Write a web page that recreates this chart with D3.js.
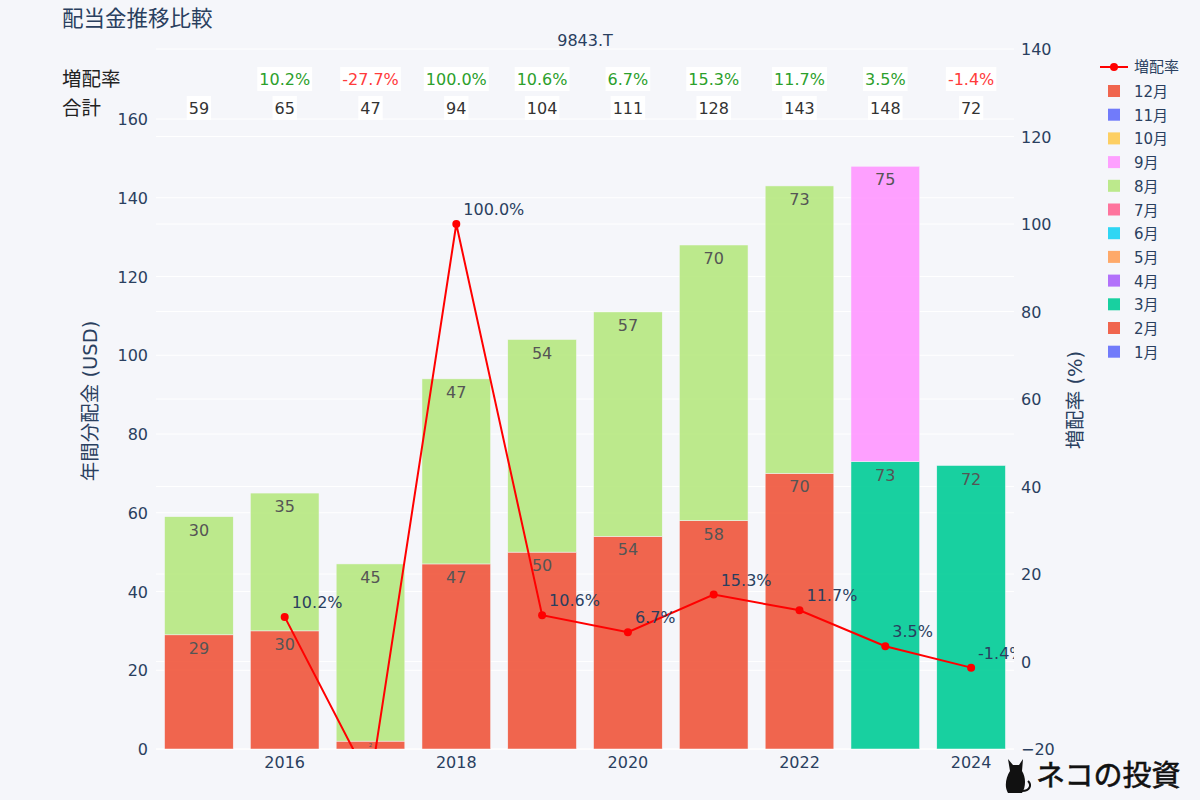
<!DOCTYPE html>
<html><head><meta charset="utf-8">
<script src="https://cdn.jsdelivr.net/npm/d3@7"></script>
<style>
body{margin:0;background:#f5f6fa;}
svg{font-family:"DejaVu Sans","Noto Sans CJK JP",sans-serif;}
</style></head>
<body><svg id="c" width="1200" height="800"></svg>
<script>
// ---- data ----
const years = [2015,2016,2017,2018,2019,2020,2021,2022,2023,2024];
const monthNames = ["1月","2月","3月","4月","5月","6月","7月","8月","9月","10月","11月","12月"];
const monthColors = ["#636EFA","#EF553B","#00CC96","#AB63FA","#FFA15A","#19D3F3","#FF6692","#B6E880","#FF97FF","#FECB52","#636EFA","#EF553B"];
const jan = [0,0,0,0,0,0,0,0,0,0];
const feb = [29,30,2,47,50,54,58,70,0,0];
const mar = [0,0,0,0,0,0,0,0,73,72];
const apr = [0,0,0,0,0,0,0,0,0,0];
const may = [0,0,0,0,0,0,0,0,0,0];
const jun = [0,0,0,0,0,0,0,0,0,0];
const jul = [0,0,0,0,0,0,0,0,0,0];
const aug = [30,35,45,47,54,57,70,73,0,0];
const sep = [0,0,0,0,0,0,0,0,75,0];
const oct = [0,0,0,0,0,0,0,0,0,0];
const nov = [0,0,0,0,0,0,0,0,0,0];
const dec = [0,0,0,0,0,0,0,0,0,0];
const totals = [59,65,47,94,104,111,128,143,148,72];
const growthYears = [2016,2017,2018,2019,2020,2021,2022,2023,2024];
const growth = [10.2,-27.7,100.0,10.6,6.7,15.3,11.7,3.5,-1.4];
const leftTicks = [0,20,40,60,80,100,120,140,160];
const rightTicks = [-20,0,20,40,60,80,100,120,140];
const xTicks = [2016,2018,2020,2022,2024];

const months = [jan,feb,mar,apr,may,jun,jul,aug,sep,oct,nov,dec];

const svg = d3.select("#c");
const L=156, R=1014, T=49, B=749;
const x = d3.scaleLinear().domain([2014.5,2024.5]).range([L,R]);
const yL = d3.scaleLinear().domain([0,160]).range([B,119]);
const yR = d3.scaleLinear().domain([-20,140]).range([B,T]);
const bw = (x(1)-x(0))*0.8;
const txtCol = "#2a3f5f";

svg.append("rect").attr("width",1200).attr("height",800).attr("fill","#f5f6fa");
svg.append("defs").append("clipPath").attr("id","clip").append("rect")
  .attr("x",L).attr("y",T).attr("width",R-L).attr("height",B-T);

// grids
const g = svg.append("g");
g.selectAll(".gl").data(leftTicks).join("line")
  .attr("x1",L).attr("x2",R).attr("y1",d=>yL(d)).attr("y2",d=>yL(d))
  .attr("stroke","#fff").attr("stroke-width",1);
g.selectAll(".gr").data(rightTicks).join("line")
  .attr("x1",L).attr("x2",R).attr("y1",d=>yR(d)).attr("y2",d=>yR(d))
  .attr("stroke","#fff").attr("stroke-width",1);

// stacked bars
const stacks = years.map(()=>0);
const barG = svg.append("g").attr("clip-path","url(#clip)");
const labelG = svg.append("g");
months.forEach((arr,mi)=>{
  arr.forEach((v,i)=>{
    if(!v) return;
    const y0 = stacks[i], y1 = y0+v;
    stacks[i]=y1;
    barG.append("rect")
      .attr("x",x(years[i])-bw/2).attr("width",bw)
      .attr("y",yL(y1)).attr("height",yL(y0)-yL(y1))
      .attr("fill",monthColors[mi]).attr("fill-opacity",0.9)
      .attr("stroke","#f5f6fa").attr("stroke-width",0.5);
    const h = yL(y0)-yL(y1);
    const fs = h>24?16:Math.max(4,h*0.7);
    labelG.append("text")
      .attr("x",x(years[i])).attr("y",yL(y1)+(h>24?19:h*0.75))
      .attr("text-anchor","middle").attr("font-size",fs)
      .attr("fill","#555").text(v);
  });
});

// axes tick labels
svg.append("g").selectAll("text").data(leftTicks).join("text")
  .attr("x",148).attr("y",d=>yL(d)+6).attr("text-anchor","end")
  .attr("font-size",16).attr("fill",txtCol).text(d=>d);
svg.append("g").selectAll("text").data(rightTicks).join("text")
  .attr("x",1021).attr("y",d=>yR(d)+6).attr("text-anchor","start")
  .attr("font-size",16).attr("fill",txtCol).text(d=>d<0?"\u2212"+Math.abs(d):d);
svg.append("g").selectAll("text").data(xTicks).join("text")
  .attr("x",d=>x(d)).attr("y",768).attr("text-anchor","middle")
  .attr("font-size",16).attr("fill",txtCol).text(d=>d);

// axis titles
svg.append("text").attr("transform","translate(97,401) rotate(-90)")
  .attr("text-anchor","middle").attr("font-size",19.5).attr("fill",txtCol).text("年間分配金 (USD)");
svg.append("text").attr("transform","translate(1082,400) rotate(-90)")
  .attr("text-anchor","middle").attr("font-size",19.5).attr("fill",txtCol).text("増配率 (%)");

// line
const lineG = svg.append("g").attr("clip-path","url(#clip)");
const pts = growthYears.map((yr,i)=>[x(yr),yR(growth[i])]);
lineG.append("path").attr("d",d3.line()(pts)).attr("fill","none")
  .attr("stroke","red").attr("stroke-width",2);
lineG.selectAll("circle").data(pts).join("circle")
  .attr("cx",d=>d[0]).attr("cy",d=>d[1]).attr("r",4).attr("fill","red");
lineG.selectAll(".lt").data(growthYears).join("text")
  .attr("x",d=>x(d)+7).attr("y",(d,i)=>yR(growth[i])-9)
  .attr("font-size",16).attr("fill",txtCol).text((d,i)=>growth[i].toFixed(1)+"%");

// title
svg.append("text").attr("x",62).attr("y",26).attr("font-size",21.5).attr("fill",txtCol).text("配当金推移比較");
svg.append("text").attr("x",585).attr("y",46).attr("text-anchor","middle").attr("font-size",16).attr("fill",txtCol).text("9843.T");

// table rows
svg.append("text").attr("x",62).attr("y",86).attr("font-size",19.5).attr("fill","#222").text("増配率");
svg.append("text").attr("x",62).attr("y",115).attr("font-size",19.5).attr("fill","#222").text("合計");
function boxText(cx,cy,str,col){
  const t = svg.append("text").attr("x",cx).attr("y",cy+6).attr("text-anchor","middle")
    .attr("font-size",16).attr("fill",col).text(str);
  const bb = t.node().getBBox();
  svg.insert("rect",()=>t.node()).attr("x",bb.x-2).attr("y",cy-12).attr("width",bb.width+4).attr("height",24).attr("fill","#fff");
}
growthYears.forEach((yr,i)=>boxText(x(yr),79,growth[i].toFixed(1)+"%",growth[i]>=0?"#2ca02c":"#ff3b3b"));
years.forEach((yr,i)=>boxText(x(yr),108,totals[i],"#333"));

// legend
const lg = svg.append("g");
lg.append("line").attr("x1",1100).attr("x2",1128).attr("y1",67).attr("y2",67).attr("stroke","red").attr("stroke-width",2);
lg.append("circle").attr("cx",1114).attr("cy",67).attr("r",4).attr("fill","red");
lg.append("text").attr("x",1134).attr("y",72).attr("font-size",15).attr("fill",txtCol).text("増配率");
const legendOrder = d3.range(11,-1,-1);
legendOrder.forEach((mi,k)=>{
  const cy = 91 + k*23.7;
  lg.append("rect").attr("x",1108).attr("y",cy-6).attr("width",12).attr("height",12)
    .attr("fill",monthColors[mi]).attr("fill-opacity",0.9);
  lg.append("text").attr("x",1134).attr("y",cy+6).attr("font-size",15).attr("fill",txtCol).text(monthNames[mi]);
});

// logo
const logo = svg.append("g").attr("transform","translate(1000,753)");
logo.append("path").attr("d","M8,40 C4,34 6,24 10,18 L8,6 L13,12 L19,12 L23,6 L22,18 C26,24 26,34 22,40 Z").attr("fill","#111");
logo.append("path").attr("d","M22,38 C30,38 32,32 28,28").attr("fill","none").attr("stroke","#111").attr("stroke-width",2);
logo.append("text").attr("x",36).attr("y",33).attr("font-size",29).attr("fill","#111").attr("stroke","#111").attr("stroke-width",0.6).text("ネコの投資");
</script></body></html>
